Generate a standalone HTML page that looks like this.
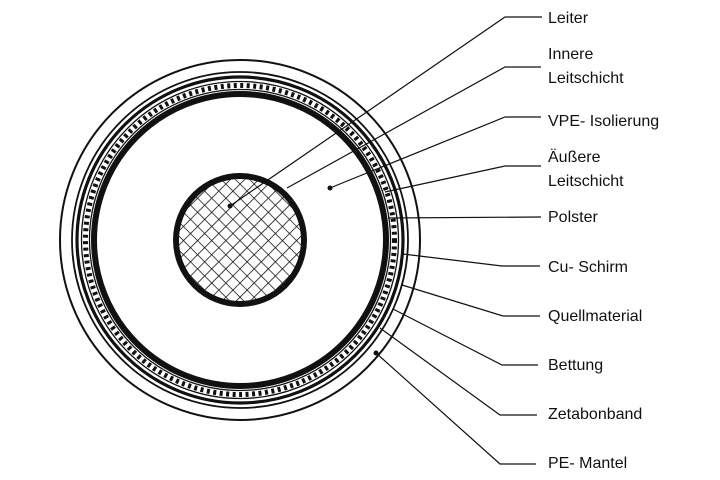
<!DOCTYPE html>
<html><head><meta charset="utf-8"><style>
html,body{margin:0;padding:0;background:#fff;}
svg{display:block;}
text{font-family:"Liberation Sans",sans-serif;font-size:16px;fill:#111;}
</style></head><body>
<svg width="720" height="480" viewBox="0 0 720 480" xmlns="http://www.w3.org/2000/svg">
<defs>
<pattern id="hatch" width="10" height="10" patternUnits="userSpaceOnUse" patternTransform="rotate(45 240 240)">
<path d="M0 0H10M0 0V10" stroke="#111" stroke-width="1.6" fill="none"/>
</pattern>
<clipPath id="core"><circle cx="240" cy="240" r="64"/></clipPath>
</defs>
<g fill="none" stroke="#111">
<circle cx="240" cy="240" r="180" stroke-width="2"/>
<circle cx="240" cy="240" r="168" stroke-width="1.8"/>
<circle cx="240" cy="240" r="163" stroke-width="3.2"/>
<circle cx="240" cy="240" r="158.5" stroke-width="1.3"/>
<circle cx="240" cy="240" r="154.5" stroke-width="5" stroke-dasharray="3 3.5"/>
<circle cx="240" cy="240" r="150.5" stroke-width="1.3"/>
<circle cx="240" cy="240" r="146" stroke-width="6"/>
</g>
<rect x="170" y="170" width="140" height="140" fill="url(#hatch)" clip-path="url(#core)"/>
<circle cx="240" cy="240" r="64" fill="none" stroke="#111" stroke-width="6"/>
<g stroke="#111" stroke-width="1.2" fill="none">
<polyline points="230,206 505,17 542,17"/>
<polyline points="287,188 505,67 541,67"/>
<polyline points="330,188 505,117 541,117"/>
<polyline points="385,192 505,166 541,166"/>
<polyline points="388,218 541,217"/>
<polyline points="403,254 502,266 540,266"/>
<polyline points="402,285 503,316 540,316"/>
<polyline points="393,309 502,365 538,365"/>
<polyline points="380,328 500,415 537,415"/>
<polyline points="376,353 500,464 536,464"/>
</g>
<g fill="#111">
<circle cx="230" cy="206" r="2.5"/>
<circle cx="330" cy="188" r="2.5"/>
<circle cx="376" cy="353" r="2.5"/>
</g>
<text x="548" y="23">Leiter</text>
<text x="548" y="59">Innere</text>
<text x="548" y="83">Leitschicht</text>
<text x="548" y="126">VPE- Isolierung</text>
<text x="548" y="162">Äußere</text>
<text x="548" y="186">Leitschicht</text>
<text x="548" y="222">Polster</text>
<text x="548" y="272">Cu- Schirm</text>
<text x="548" y="321">Quellmaterial</text>
<text x="548" y="370">Bettung</text>
<text x="548" y="419">Zetabonband</text>
<text x="548" y="468">PE- Mantel</text>
</svg>
</body></html>
